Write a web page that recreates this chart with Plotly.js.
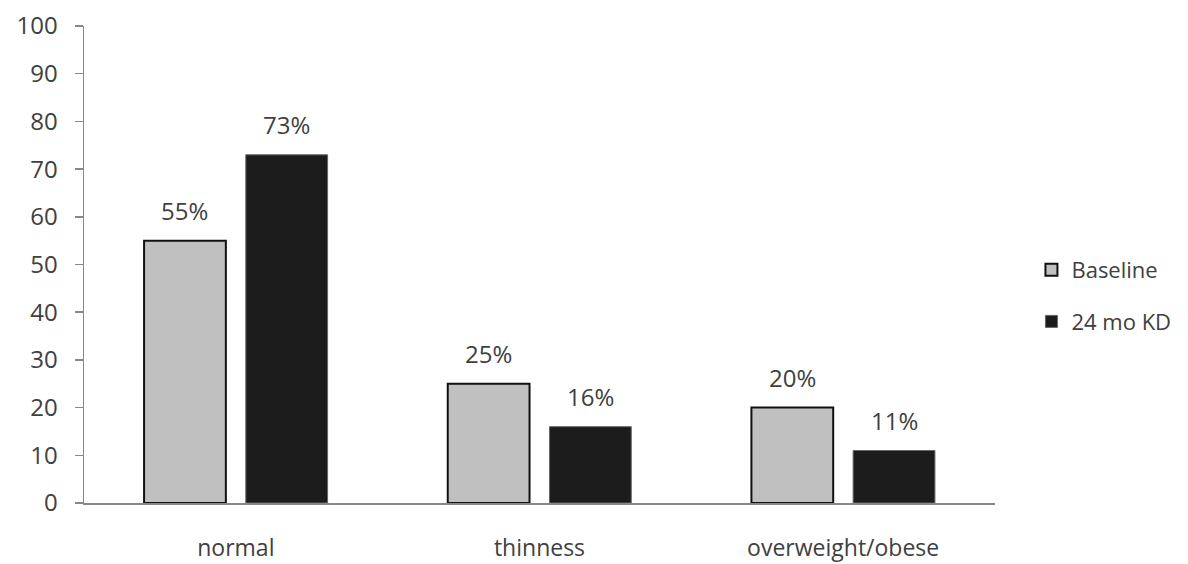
<!DOCTYPE html>
<html>
<head>
<meta charset="utf-8">
<script src="https://cdn.plot.ly/plotly-3.0.1.min.js"></script>
<style>html,body{margin:0;padding:0;background:#fff;}#chart{width:1188px;height:564px;}</style>
</head>
<body>
<div id="chart"></div>
<script>
const categories = ["normal", "thinness", "overweight/obese"];
const baseline = [55, 25, 20];
const kd24 = [73, 16, 11];
const seriesNames = ["Baseline", "24 mo KD"];
const yTicks = [0, 10, 20, 30, 40, 50, 60, 70, 80, 90, 100];

const FONT = "Open Sans, Noto Sans, sans-serif";
const TXT = "#404040";

const traces = [
  {type: "bar", name: seriesNames[0], x: categories, y: baseline,
   marker: {color: "#c0c0c0", line: {color: "#111111", width: 2}},
   legendgroup: "a", hoverinfo: "none"},
  {type: "bar", name: seriesNames[1], x: categories, y: kd24,
   marker: {color: "#1c1c1c", line: {color: "#666666", width: 1}},
   legendgroup: "b", hoverinfo: "none"}
];

const annotations = [];
[baseline, kd24].forEach((vals, si) => {
  vals.forEach((v, i) => {
    annotations.push({x: categories[i], y: v, xref: "x", yref: "y",
      text: v + "%", showarrow: false, yanchor: "bottom",
      xshift: si === 0 ? -51 : 51, yshift: 12,
      font: {family: FONT, size: 24, color: TXT}});
  });
});

const layout = {
  width: 1188, height: 564,
  margin: {l: 84, r: 190, t: 26, b: 61},
  paper_bgcolor: "#fff", plot_bgcolor: "#fff",
  barmode: "group", bargap: 0.33, bargroupgap: 0.196,
  showlegend: true,
  legend: {x: 1.04, y: 0.434, xanchor: "left", yanchor: "middle",
    font: {family: FONT, size: 22, color: TXT},
    traceorder: "grouped", tracegroupgap: 20, itemwidth: 30},
  xaxis: {showline: true, linecolor: "#888888", linewidth: 1.5,
    ticks: "", ticklabelstandoff: 24,
    tickfont: {family: FONT, size: 23, color: TXT}, showgrid: false, zeroline: false,
    range: [-0.5, 2.5], fixedrange: true},
  yaxis: {range: [0, 100], tickvals: yTicks, showline: true, linecolor: "#888888", linewidth: 1.5,
    ticks: "outside", ticklen: 8, tickcolor: "#888888", tickwidth: 1.5,
    ticklabelstandoff: 12,
    tickfont: {family: FONT, size: 24, color: TXT}, showgrid: false, zeroline: false},
  annotations: annotations,
  font: {family: FONT, color: TXT}
};

Plotly.newPlot("chart", traces, layout, {displayModeBar: false, staticPlot: true});
</script>
</body>
</html>
